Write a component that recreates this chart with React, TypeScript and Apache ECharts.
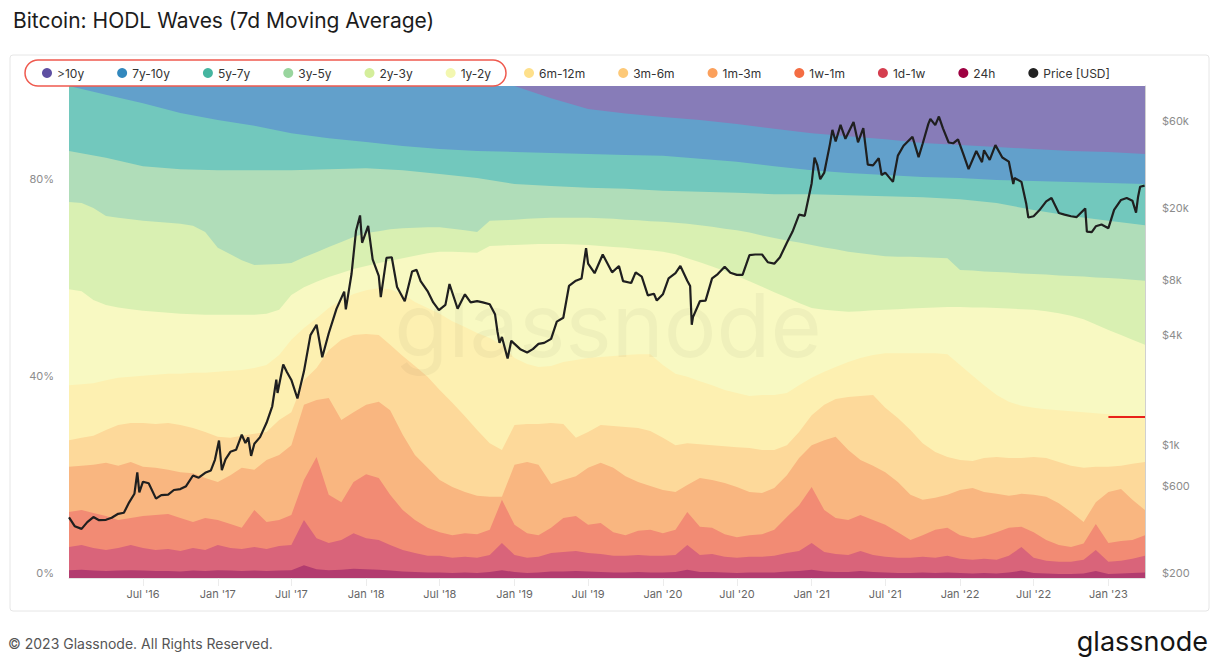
import React, { useEffect, useRef } from 'react';
import * as echarts from 'echarts';

const FONT = 'Inter, "Noto Sans", sans-serif';

// stack order, top of the chart first
const bandNames = ['>10y', '7y-10y', '5y-7y', '3y-5y', '2y-3y', '1y-2y', '6m-12m', '3m-6m', '1m-3m', '1w-1m', '1d-1w', '24h'];
const bandLegendColors = ['#5e4fa2', '#3288bd', '#45b5a0', '#99d59e', '#d4ee9b', '#f3f7b0', '#fee08b', '#fdc978', '#fba05c', '#f46d43', '#d53e4f', '#9e0142'];
const bandFillColors = ['#877cb8', '#62a0cb', '#72c8bd', '#b0ddb9', '#d9f0b2', '#f8f9c2', '#fdf0b1', '#fdd99a', '#f9b680', '#f28b74', '#d9647a', '#b23c6f'];

const monthStarts: string[] = [];
for (let y = 2016; y <= 2023; y++) {
  for (let m = 1; m <= 12; m++) {
    if (y === 2023 && m > 4) break;
    monthStarts.push(`${y}-${String(m).padStart(2, '0')}-01`);
  }
}
const quarterStarts = monthStarts.filter((_, i) => i % 3 === 0);

// cumulative top edge (%) of each band
const top10yPlus = quarterStarts.map(() => 100); // stack always closes at 100%
const top7y10y = [
  100, 100, 100, 100, 100, 100, 100, 100, 100, 100, 100, 100,
  100, 97.5, 95.3, 94.4, 93.7, 93.1, 92.3, 91.3, 90.4, 89.8, 89.2, 88.4,
  88.0, 87.6, 87.2, 86.8, 86.6, 86.2,
];
const top5y7y = [
  100, 98.2, 96.5, 94.5, 93.1, 91.9, 90.4, 89.4, 88.6, 87.8, 87.2, 86.8,
  86.6, 86.4, 86.2, 86.0, 85.8, 85.2, 84.6, 83.7, 82.9, 82.3, 81.9, 81.5,
  81.3, 80.9, 80.7, 80.5, 80.3, 80.1,
];
const top3y5y = [
  86.8, 85.4, 83.7, 83.1, 82.9, 82.9, 82.9, 83.1, 83.3, 82.9, 82.1, 81.3,
  80.1, 79.7, 79.3, 79.1, 78.7, 78.5, 78.3, 78.0, 78.0, 77.8, 77.6, 77.4,
  77.0, 76.2, 74.8, 73.6, 72.6, 71.7,
];
const top2y3y = [
  76.4, 76.2, 75.2, 73.6, 73.2, 72.9, 72.6, 72.4, 72.2, 72.0, 71.6, 70.3,
  67.1, 65.8, 64.6, 63.6, 63.7, 63.8, 64.0, 65.2, 66.2, 67.3, 68.3, 69.3,
  70.1, 70.5, 70.9, 71.1, 71.2, 71.3, 71.3, 71.0, 70.7, 70.3, 72.6, 72.7,
  72.8, 73.0, 73.1, 73.2, 73.2, 73.2, 73.2, 73.1, 73.0, 72.8, 72.7, 72.5,
  72.4, 72.2, 72.0, 71.7, 71.4, 71.0, 70.7, 70.2, 69.6, 69.1, 68.6, 68.2,
  67.7, 67.2, 66.8, 66.3, 66.0, 65.7, 65.4, 65.3, 65.3, 65.2, 65.1, 65.0,
  62.6, 62.5, 62.3, 62.2, 62.1, 61.9, 61.8, 61.7, 61.5, 61.4, 61.3, 61.1,
  61.0, 60.8, 60.6, 60.4,
];
const top1y2y = [
  58.7, 58.3, 56.5, 55.5, 55.0, 54.6, 54.3, 54.1, 53.9, 53.7, 53.6, 53.5,
  53.5, 53.5, 53.5, 53.5, 53.7, 54.5, 57.5, 59.1, 60.2, 61.2, 62.0, 62.8,
  63.4, 64.0, 64.5, 65.0, 65.5, 66.0, 66.3, 66.3, 66.2, 66.1, 67.5, 67.6,
  67.7, 67.8, 67.9, 67.9, 67.9, 67.8, 67.7, 67.5, 67.3, 67.1, 66.8, 66.6,
  66.3, 65.8, 65.0, 64.2, 63.3, 62.4, 61.4, 60.3, 59.2, 58.1, 57.0, 55.9,
  54.9, 54.5, 54.3, 54.1, 54.2, 54.4, 54.5, 54.6, 54.8, 54.9, 55.0, 55.1,
  55.1, 55.0, 55.0, 54.9, 54.8, 54.6, 54.5, 54.2, 53.8, 53.3, 52.6, 51.5,
  50.4, 49.4, 48.4, 47.4,
];
const top6m12m = [
  39.2, 39.4, 39.6, 40.2, 40.7, 40.9, 41.1, 41.3, 41.5, 41.5, 41.7, 41.7,
  41.9, 42.1, 42.3, 42.7, 43.3, 45.3, 48.4, 50.8, 52.8, 54.9, 56.5, 57.7,
  58.5, 58.9, 58.7, 57.7, 56.1, 54.9, 53.7, 52.2, 51.0, 49.8, 48.8, 47.4,
  44.7, 43.5, 42.9, 43.1, 43.9, 44.3, 44.7, 44.9, 45.1, 45.3, 45.5, 45.5,
  43.3, 41.5, 40.9, 40.0, 39.2, 38.2, 37.6, 37.0, 37.2, 37.2, 37.6, 39.2,
  40.7, 41.9, 42.9, 43.9, 44.7, 45.3, 45.7, 45.7, 45.7, 45.7, 45.7, 45.5,
  43.3, 41.1, 39.2, 37.2, 35.8, 35.0, 34.6, 34.3, 34.1, 33.9, 33.7, 33.5,
  33.3, 33.1, 32.9, 32.7,
];
const top3m6m = [
  28.0, 28.5, 28.9, 30.1, 31.1, 31.5, 31.5, 31.3, 31.5, 31.1, 30.5, 29.7,
  28.7, 28.5, 28.9, 29.3, 29.7, 32.1, 33.7, 40.2, 42.7, 46.3, 48.4, 49.4,
  49.6, 49.4, 47.4, 45.1, 43.1, 40.9, 38.2, 35.6, 32.9, 30.1, 27.4, 26.0,
  31.1, 31.3, 31.3, 31.5, 31.3, 28.5, 29.7, 31.1, 30.9, 30.7, 30.5, 29.9,
  28.5, 27.0, 27.4, 27.2, 27.0, 26.8, 26.6, 26.4, 26.0, 26.0, 27.0, 29.7,
  33.1, 35.2, 36.4, 36.8, 37.0, 37.2, 34.6, 32.5, 30.1, 27.4, 25.6, 24.6,
  24.0, 23.8, 24.4, 24.6, 24.4, 24.4, 24.6, 24.4, 23.6, 22.8, 22.4, 22.6,
  22.6, 22.8, 23.2, 23.6,
];
const top1m3m = [
  22.6, 22.8, 23.0, 23.4, 22.8, 23.6, 22.6, 22.4, 22.0, 21.5, 21.3, 20.3,
  19.5, 20.9, 22.4, 22.0, 24.0, 25.0, 27.0, 35.2, 36.2, 36.6, 32.1, 33.7,
  35.2, 35.8, 34.1, 29.1, 25.0, 22.4, 19.9, 18.5, 17.5, 16.7, 16.5, 16.5,
  23.0, 23.6, 23.0, 19.1, 19.9, 20.7, 22.4, 23.4, 22.4, 20.7, 19.5, 18.7,
  17.9, 17.5, 18.9, 20.3, 19.9, 19.3, 18.5, 17.5, 17.3, 18.3, 20.9, 24.4,
  27.0, 28.0, 28.7, 26.0, 24.0, 22.8, 21.5, 19.5, 16.9, 15.9, 16.3, 16.9,
  17.9, 18.3, 17.5, 17.1, 16.7, 17.1, 16.9, 16.5, 15.2, 13.4, 11.4, 15.4,
  17.5, 18.1, 15.9, 13.8,
];
const top1w1m = [
  13.4, 13.8, 13.2, 12.6, 11.8, 12.2, 12.6, 12.8, 13.0, 12.2, 11.4, 12.2,
  11.8, 11.0, 10.2, 13.8, 11.4, 11.8, 12.8, 19.9, 24.6, 16.9, 15.4, 19.5,
  21.1, 20.3, 16.9, 13.8, 11.8, 10.2, 9.3, 8.7, 9.1, 8.9, 9.8, 15.9,
  10.8, 9.1, 8.7, 10.2, 12.2, 12.6, 10.8, 11.2, 9.3, 8.7, 9.6, 9.8,
  9.1, 9.8, 13.4, 10.4, 10.2, 8.9, 8.3, 8.7, 8.9, 9.8, 12.4, 14.8,
  18.5, 13.8, 12.2, 11.8, 12.8, 11.8, 10.8, 9.3, 7.7, 8.7, 9.8, 10.2,
  8.7, 8.1, 8.5, 9.3, 10.2, 10.4, 9.3, 7.7, 6.7, 6.3, 7.0, 11.0,
  7.1, 7.5, 7.7, 8.7,
];
const top1d1w = [
  6.3, 6.7, 6.1, 5.7, 6.1, 6.7, 6.1, 5.7, 5.9, 5.5, 6.1, 5.7,
  6.7, 6.1, 5.9, 6.3, 5.9, 6.5, 6.7, 11.8, 8.1, 7.1, 7.7, 9.1,
  8.1, 7.7, 6.7, 5.7, 5.1, 4.5, 4.5, 4.1, 4.3, 4.1, 4.7, 7.1,
  4.7, 4.1, 4.3, 5.1, 5.3, 5.5, 5.1, 4.9, 4.5, 4.5, 4.7, 4.5,
  4.5, 4.7, 6.7, 4.7, 4.9, 4.3, 4.1, 4.3, 4.3, 4.5, 5.1, 5.5,
  7.1, 5.3, 4.9, 4.7, 5.5, 4.7, 4.3, 4.1, 4.1, 4.3, 4.1, 4.5,
  3.9, 3.7, 3.9, 3.7, 4.5, 6.3, 4.1, 3.5, 3.3, 3.3, 3.7, 5.7,
  3.3, 3.5, 3.9, 4.5,
];
const top24h = [
  1.6, 1.7, 1.5, 1.4, 1.5, 1.6, 1.5, 1.4, 1.4, 1.3, 1.5, 1.4,
  1.6, 1.5, 1.4, 1.5, 1.4, 1.5, 1.6, 2.6, 1.8, 1.6, 1.7, 1.9,
  1.8, 1.7, 1.5, 1.3, 1.2, 1.1, 1.1, 1.0, 1.1, 1.0, 1.2, 1.6,
  1.2, 1.0, 1.1, 1.3, 1.3, 1.4, 1.3, 1.2, 1.1, 1.1, 1.2, 1.1,
  1.1, 1.2, 1.7, 1.2, 1.2, 1.1, 1.0, 1.1, 1.1, 1.1, 1.3, 1.4,
  1.7, 1.3, 1.2, 1.2, 1.4, 1.2, 1.1, 1.0, 1.0, 1.1, 1.0, 1.1,
  1.0, 0.9, 1.0, 0.9, 1.1, 1.5, 1.0, 0.9, 0.8, 0.8, 0.9, 1.4,
  0.8, 0.9, 1.0, 1.1,
];

const bandTops = [
  { dates: quarterStarts, values: top10yPlus },
  { dates: quarterStarts, values: top7y10y },
  { dates: quarterStarts, values: top5y7y },
  { dates: quarterStarts, values: top3y5y },
  { dates: monthStarts, values: top2y3y },
  { dates: monthStarts, values: top1y2y },
  { dates: monthStarts, values: top6m12m },
  { dates: monthStarts, values: top3m6m },
  { dates: monthStarts, values: top1m3m },
  { dates: monthStarts, values: top1w1m },
  { dates: monthStarts, values: top1d1w },
  { dates: monthStarts, values: top24h },
];

const priceDates = [
  '2016-01-01', '2016-01-15', '2016-02-01', '2016-02-15', '2016-03-01', '2016-03-15', '2016-04-01', '2016-04-15',
  '2016-05-01', '2016-05-15', '2016-05-28', '2016-06-10', '2016-06-17', '2016-06-22', '2016-07-01', '2016-07-15',
  '2016-08-02', '2016-08-15', '2016-09-01', '2016-09-15', '2016-10-01', '2016-10-15', '2016-11-01', '2016-11-15',
  '2016-12-01', '2016-12-15', '2016-12-25', '2017-01-04', '2017-01-11', '2017-01-20', '2017-02-01', '2017-02-15',
  '2017-03-01', '2017-03-10', '2017-03-17', '2017-03-24', '2017-04-01', '2017-04-15', '2017-05-01', '2017-05-15',
  '2017-05-25', '2017-05-28', '2017-06-11', '2017-06-20', '2017-07-01', '2017-07-16', '2017-08-01', '2017-08-17',
  '2017-09-01', '2017-09-15', '2017-10-01', '2017-10-20', '2017-11-08', '2017-11-12', '2017-11-26', '2017-12-07',
  '2017-12-17', '2017-12-22', '2018-01-06', '2018-01-17', '2018-02-01', '2018-02-06', '2018-02-20', '2018-03-05',
  '2018-03-18', '2018-04-06', '2018-04-24', '2018-05-05', '2018-05-15', '2018-06-01', '2018-06-15', '2018-06-29',
  '2018-07-15', '2018-07-25', '2018-08-14', '2018-09-01', '2018-09-15', '2018-10-01', '2018-10-15', '2018-11-01',
  '2018-11-14', '2018-11-20', '2018-11-25', '2018-12-01', '2018-12-15', '2018-12-24', '2019-01-01', '2019-01-15',
  '2019-02-01', '2019-02-15', '2019-03-01', '2019-03-15', '2019-04-01', '2019-04-15', '2019-05-01', '2019-05-15',
  '2019-06-01', '2019-06-15', '2019-06-26', '2019-07-01', '2019-07-17', '2019-08-06', '2019-08-29', '2019-09-15',
  '2019-09-25', '2019-10-15', '2019-10-26', '2019-11-10', '2019-11-25', '2019-12-10', '2019-12-17', '2020-01-01',
  '2020-01-15', '2020-02-01', '2020-02-13', '2020-03-01', '2020-03-08', '2020-03-12', '2020-03-15', '2020-04-01',
  '2020-04-15', '2020-05-01', '2020-05-15', '2020-06-01', '2020-06-15', '2020-07-01', '2020-07-15', '2020-08-01',
  '2020-08-15', '2020-09-01', '2020-09-15', '2020-10-01', '2020-10-15', '2020-11-01', '2020-11-15', '2020-12-01',
  '2020-12-15', '2021-01-01', '2021-01-08', '2021-01-15', '2021-01-22', '2021-02-01', '2021-02-15', '2021-02-21',
  '2021-03-01', '2021-03-13', '2021-03-25', '2021-04-14', '2021-04-25', '2021-05-08', '2021-05-19', '2021-06-01',
  '2021-06-15', '2021-06-22', '2021-07-01', '2021-07-20', '2021-08-01', '2021-08-15', '2021-09-06', '2021-09-21',
  '2021-10-01', '2021-10-15', '2021-10-20', '2021-11-01', '2021-11-10', '2021-11-20', '2021-12-04', '2021-12-15',
  '2021-12-27', '2022-01-10', '2022-01-22', '2022-02-10', '2022-02-24', '2022-03-01', '2022-03-15', '2022-03-29',
  '2022-04-15', '2022-05-01', '2022-05-12', '2022-05-15', '2022-06-01', '2022-06-13', '2022-06-18', '2022-07-01',
  '2022-07-15', '2022-08-01', '2022-08-14', '2022-09-01', '2022-09-15', '2022-10-01', '2022-10-15', '2022-11-05',
  '2022-11-09', '2022-11-21', '2022-12-01', '2022-12-15', '2023-01-01', '2023-01-15', '2023-02-01', '2023-02-15',
  '2023-03-01', '2023-03-10', '2023-03-15', '2023-03-20', '2023-03-31',
];
const priceUsd = [
  430, 385, 372, 405, 432, 415, 417, 428,
  450, 456, 520, 580, 760, 590, 675, 662,
  545, 570, 573, 608, 615, 638, 730, 710,
  755, 778, 890, 1135, 780, 895, 985, 1010,
  1222, 1100, 1180, 935, 1090, 1185, 1420, 1750,
  2450, 2070, 2970, 2700, 2440, 1930, 2720, 4300,
  4900, 3250, 4400, 5990, 7450, 5950, 9300, 16000,
  19500, 13800, 17100, 11200, 9100, 6950, 11400, 11500,
  7900, 6600, 9600, 9800, 8500, 7500, 6500, 5900,
  6300, 8200, 6000, 7200, 6500, 6600, 6500, 6350,
  5600, 4500, 3900, 4200, 3200, 4000, 3850, 3600,
  3450, 3600, 3850, 3900, 4100, 5100, 5350, 8000,
  8550, 8800, 12900, 10600, 9400, 11900, 9500, 10300,
  8500, 8300, 9500, 9000, 7100, 7250, 6650, 7200,
  8800, 9400, 10300, 8550, 8000, 4900, 5400, 6600,
  6650, 8800, 9300, 10200, 9450, 9200, 9200, 11800,
  11900, 11900, 10800, 10600, 11500, 13800, 15900, 19700,
  19400, 29300, 40500, 36800, 30800, 33500, 48000, 57500,
  49600, 61200, 51300, 63500, 49100, 58800, 37000, 36700,
  40200, 32500, 33500, 29800, 41500, 47000, 52700, 40700,
  48200, 62000, 66000, 61000, 68000, 58600, 49000, 48500,
  51000, 41800, 35000, 44000, 38200, 44400, 39300, 47400,
  40500, 38500, 29000, 31300, 29800, 22500, 19000, 19300,
  20800, 23300, 24300, 20100, 19700, 19300, 19100, 21300,
  15900, 15800, 17000, 17400, 16600, 20900, 23700, 24300,
  23500, 20200, 24700, 28000, 28400,
];

const xTickDates = [
  '2016-07-01', '2017-01-01', '2017-07-01', '2018-01-01', '2018-07-01', '2019-01-01', '2019-07-01',
  '2020-01-01', '2020-07-01', '2021-01-01', '2021-07-01', '2022-01-01', '2022-07-01', '2023-01-01',
];
const pctTicks = [0, 40, 80];
const priceTicks = [200, 600, 1000, 4000, 8000, 20000, 60000];
const priceTickLabels = ['$200', '$600', '$1k', '$4k', '$8k', '$20k', '$60k'];

// red annotation drawn on the 6m-12m edge
const markLevel = 32.7;
const markFrom = '2023-01-01';
const markTo = '2023-04-01';

const ts = (d: string) => Date.parse(d + 'T00:00:00Z');

function fmtDate(v: number): string {
  const d = new Date(v);
  const mon = d.getUTCMonth() === 0 ? 'Jan' : 'Jul';
  return `${mon} '${String(d.getUTCFullYear()).slice(2)}`;
}

function fmtPrice(v: number): string {
  const p = Math.pow(10, v);
  const i = priceTicks.findIndex((t) => Math.abs(p - t) / t < 0.01);
  return i >= 0 ? priceTickLabels[i] : '';
}

export default function App() {
  const ref = useRef<HTMLDivElement | null>(null);

  useEffect(() => {
    if (!ref.current) return;
    const chart = echarts.init(ref.current, undefined, { renderer: 'svg' });

    const bandSeries = bandNames.map((name, i) => ({
      name,
      type: 'line',
      yAxisIndex: 0,
      z: 2,
      silent: true,
      showSymbol: false,
      symbol: 'none',
      data: bandTops[i].dates.map((d, j) => [ts(d), bandTops[i].values[j]]),
      lineStyle: { width: 0, opacity: 0 },
      itemStyle: { color: bandLegendColors[i] },
      areaStyle: { color: bandFillColors[i], opacity: 1, origin: 'start' },
      ...(name === '6m-12m'
        ? {
            markLine: {
              silent: true,
              symbol: ['none', 'none'],
              label: { show: false },
              lineStyle: { color: '#e8221b', width: 2, type: 'solid' },
              data: [[{ coord: [ts(markFrom), markLevel] }, { coord: [ts(markTo), markLevel] }]],
            },
          }
        : {}),
    }));

    chart.setOption({
      animation: false,
      backgroundColor: '#ffffff',
      textStyle: { fontFamily: FONT },
      title: {
        text: 'Bitcoin: HODL Waves (7d Moving Average)',
        left: 8,
        top: 5,
        textStyle: { fontSize: 21, fontWeight: 400, color: '#1c1c1c', fontFamily: FONT },
      },
      legend: {
        left: 37,
        top: 62,
        icon: 'circle',
        itemWidth: 10,
        itemHeight: 10,
        itemGap: 33,
        textStyle: { fontSize: 12, color: '#333', fontFamily: FONT },
        data: [...bandNames, 'Price [USD]'],
      },
      grid: { left: 69, right: 71, top: 86, bottom: 80 },
      xAxis: {
        type: 'value',
        min: ts('2016-01-01'),
        max: ts('2023-04-01'),
        axisLine: { show: true, lineStyle: { color: '#e4e4e4' } },
        axisTick: { show: true, customValues: xTickDates.map(ts), length: 8, lineStyle: { color: '#ececec' } },
        axisLabel: {
          customValues: xTickDates.map(ts),
          formatter: fmtDate,
          color: '#666',
          fontSize: 11,
          margin: 10,
          fontFamily: FONT,
        },
        splitLine: { show: false },
      },
      yAxis: [
        {
          type: 'value',
          min: 0,
          max: 100,
          position: 'left',
          axisLine: { show: false },
          axisTick: { show: false },
          splitLine: { show: false },
          axisLabel: {
            customValues: pctTicks,
            formatter: (v: number) => `${v}%`,
            color: '#8c8c8c',
            fontSize: 11,
            margin: 15,
            verticalAlign: 'bottom',
            fontFamily: FONT,
          },
        },
        {
          type: 'value',
          min: Math.log10(200),
          max: 5,
          position: 'right',
          axisLine: { show: true, lineStyle: { color: '#d0d0d0' } },
          axisTick: { show: false },
          splitLine: { show: false },
          axisLabel: {
            customValues: priceTicks.map(Math.log10),
            formatter: fmtPrice,
            color: '#8c8c8c',
            fontSize: 11,
            margin: 17,
            verticalAlign: 'bottom',
            fontFamily: FONT,
          },
        },
      ],
      graphic: [
        {
          type: 'rect',
          silent: true,
          z: -1,
          shape: { x: 10, y: 55, width: 1199, height: 556, r: 3 },
          style: { fill: 'none', stroke: '#e6e6e6', lineWidth: 1 },
        },
        {
          type: 'rect',
          silent: true,
          z: 100,
          shape: { x: 25, y: 60, width: 481, height: 26, r: 13 },
          style: { fill: 'none', stroke: '#ef5a4f', lineWidth: 1.5 },
        },
        {
          type: 'text',
          silent: true,
          z: 5,
          style: {
            text: 'glassnode',
            x: 608,
            y: 325,
            align: 'center',
            verticalAlign: 'middle',
            fontSize: 88,
            fontFamily: FONT,
            fill: 'rgba(0,0,0,0.035)',
          },
        },
        {
          type: 'text',
          silent: true,
          style: {
            text: '© 2023 Glassnode. All Rights Reserved.',
            x: 8,
            y: 643,
            verticalAlign: 'middle',
            fontSize: 14,
            fontFamily: FONT,
            fill: '#555',
          },
        },
        {
          type: 'text',
          silent: true,
          style: {
            text: 'glassnode',
            x: 1208,
            y: 641,
            align: 'right',
            verticalAlign: 'middle',
            fontSize: 27,
            fontFamily: FONT,
            fill: '#151515',
          },
        },
      ],
      series: [
        ...bandSeries,
        {
          name: 'Price [USD]',
          type: 'line',
          yAxisIndex: 1,
          z: 10,
          silent: true,
          showSymbol: false,
          symbol: 'none',
          data: priceDates.map((d, i) => [ts(d), Math.log10(priceUsd[i])]),
          lineStyle: { color: '#1f1f1f', width: 2.2 },
          itemStyle: { color: '#222' },
        },
      ],
    });

    return () => chart.dispose();
  }, []);

  return (
    <div
      ref={ref}
      style={{ position: 'fixed', left: 0, top: 0, width: 1216, height: 658, background: '#fff' }}
    />
  );
}
